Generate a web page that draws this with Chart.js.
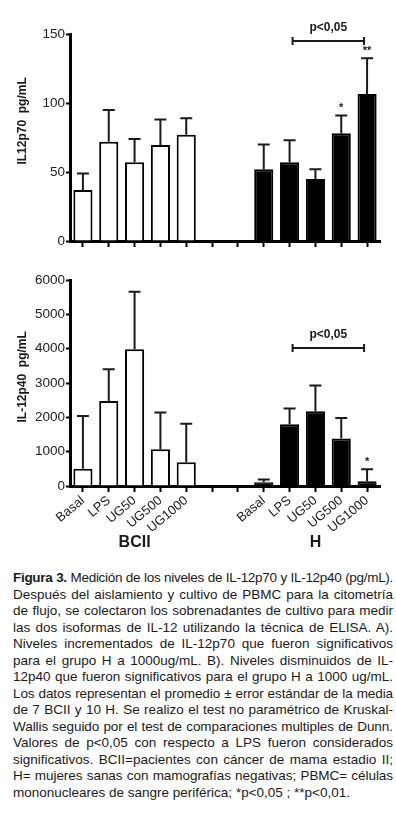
<!DOCTYPE html>
<html>
<head>
<meta charset="utf-8">
<script src="https://cdn.jsdelivr.net/npm/chart.js@4.4.1/dist/chart.umd.min.js"></script>
<style>
  body { margin: 0; width: 396px; height: 818px; background: #fff; position: relative; overflow: hidden;
         font-family: "Liberation Sans", Arial, sans-serif; }
  #c1 { position: absolute; left: 0; top: 0; }
  #c2 { position: absolute; left: 0; top: 260px; }
  #caption { position: absolute; left: 13px; top: 570px; width: 380px; font-size: 13.5px; line-height: 16.5px; color: #1a1a1a; }
  .ln { text-align: justify; text-align-last: justify; white-space: normal; }
  .ln.last { text-align-last: left; }
</style>
</head>
<body>
<canvas id="c1" width="396" height="260"></canvas>
<canvas id="c2" width="396" height="300"></canvas>
<div id="caption"></div>

<script>
// categorias (dos huecos vacios entre grupos)
const categories = ['Basal', 'LPS', 'UG50', 'UG500', 'UG1000', '', '', 'Basal', 'LPS', 'UG50', 'UG500', 'UG1000'];
const groups = ['BCII', 'H'];
const groupCenter = [2, 9];

// IL-12p70 (pg/mL)
const p70Bcii = [37, 72, 57, 69.5, 77, null, null, null, null, null, null, null];
const p70H    = [null, null, null, null, null, null, null, 52, 57, 45, 78, 106.5];
const p70Sem  = [12, 23, 17, 18.5, 12, null, null, 18, 16, 7, 13, 26];
const p70Stars = ['', '', '', '', '', '', '', '', '', '', '*', '**'];
const p70Ticks = [0, 50, 100, 150];

// IL-12p40 (pg/mL)
const p40Bcii = [500, 2475, 3980, 1070, 690, null, null, null, null, null, null, null];
const p40H    = [null, null, null, null, null, null, null, 110, 1800, 2175, 1380, 135];
const p40Sem  = [1540, 925, 1680, 1070, 1125, null, null, 80, 460, 755, 600, 350];
const p40Stars = ['', '', '', '', '', '', '', '', '', '', '', '*'];
const p40Ticks = [0, 1000, 2000, 3000, 4000, 5000, 6000];

// comparacion p<0,05 (desde LPS hasta UG1000 del grupo H)
const sigLabel = 'p<0,05';
const sigFrom = 8, sigTo = 11;
const p70SigLevel = 145;
const p40SigLevel = 4020;

const captionLines = [
  '<b>Figura 3.</b> Medición de los niveles de IL-12p70 y IL-12p40 (pg/mL).',
  'Después del aislamiento y cultivo de PBMC para la citometría',
  'de flujo, se colectaron los sobrenadantes de cultivo para medir',
  'las dos isoformas de IL-12 utilizando la técnica de ELISA. A).',
  'Niveles incrementados de IL-12p70 que fueron significativos',
  'para el grupo H a 1000ug/mL. B). Niveles disminuidos de IL-',
  '12p40 que fueron significativos para el grupo H a 1000 ug/mL.',
  'Los datos representan el promedio ± error estándar de la media',
  'de 7 BCII y 10 H. Se realizo el test no paramétrico de Kruskal-',
  'Wallis seguido por el test de comparaciones multiples de Dunn.',
  'Valores de p&lt;0,05 con respecto a LPS fueron considerados',
  'significativos. BCII=pacientes con cáncer de mama estadio II;',
  'H= mujeres sanas con mamografías negativas; PBMC= células',
  'mononucleares de sangre periférica; *p&lt;0,05 ; **p&lt;0,01.'
];

const FONT = '"Liberation Sans", Arial, sans-serif';
const INK = '#1a1a1a';

// Plugin para barras de error, asteriscos, comparacion y titulos
const extras = {
  id: 'extras',
  afterDatasetsDraw(chart, args, opts) {
    const ctx = chart.ctx;
    const xs = chart.scales.x, ys = chart.scales.y;
    const bcii = chart.data.datasets[0].data, h = chart.data.datasets[1].data;
    ctx.save();
    ctx.strokeStyle = INK;
    ctx.fillStyle = INK;
    ctx.lineWidth = 2;
    opts.sem.forEach((s, i) => {
      if (s == null) return;
      const mean = bcii[i] != null ? bcii[i] : h[i];
      const x = xs.getPixelForValue(i);
      const y0 = ys.getPixelForValue(mean);
      const y1 = ys.getPixelForValue(mean + s);
      ctx.beginPath();
      ctx.moveTo(x, y0);
      ctx.lineTo(x, y1);
      ctx.moveTo(x - 6, y1);
      ctx.lineTo(x + 6, y1);
      ctx.stroke();
      if (opts.stars[i]) {
        ctx.font = 'bold 11px ' + FONT;
        ctx.textAlign = 'center';
        ctx.textBaseline = 'bottom';
        ctx.fillText(opts.stars[i], x, y1 - 2);
      }
    });
    // corchete p<0,05
    const bx1 = xs.getPixelForValue(opts.sigFrom) + 3;
    const bx2 = xs.getPixelForValue(opts.sigTo) - 3;
    const by = ys.getPixelForValue(opts.sigLevel);
    ctx.beginPath();
    ctx.moveTo(bx1, by); ctx.lineTo(bx2, by);
    ctx.moveTo(bx1, by - 4); ctx.lineTo(bx1, by + 4);
    ctx.moveTo(bx2, by - 4); ctx.lineTo(bx2, by + 4);
    ctx.stroke();
    ctx.font = 'bold 12px ' + FONT;
    ctx.textAlign = 'center';
    ctx.textBaseline = 'bottom';
    ctx.fillText(sigLabel, (bx1 + bx2) / 2, by - 7);
    ctx.restore();
  },
  afterDraw(chart, args, opts) {
    const ctx = chart.ctx;
    const area = chart.chartArea;
    ctx.save();
    ctx.fillStyle = INK;
    // titulo eje y
    ctx.font = 'bold 12px ' + FONT;
    ctx.translate(opts.titleX, area.top + (area.bottom - area.top) * opts.titlePos);
    ctx.rotate(-Math.PI / 2);
    ctx.textAlign = 'center';
    ctx.textBaseline = 'middle';
    ctx.fillText(opts.title, 0, 0);
    ctx.restore();
    if (opts.groups) {
      const xs = chart.scales.x;
      ctx.save();
      ctx.fillStyle = INK;
      ctx.font = 'bold 16px ' + FONT;
      ctx.textAlign = 'center';
      ctx.textBaseline = 'middle';
      groups.forEach((g, k) => {
        ctx.fillText(g, xs.getPixelForValue(groupCenter[k]), opts.groupY);
      });
      ctx.restore();
    }
  }
};

function makeChart(id, bcii, h, sem, stars, ticks, max, sigLevel, title, titlePos, showLabels, xHeight, padTop) {
  return new Chart(document.getElementById(id), {
    type: 'bar',
    data: {
      labels: categories,
      datasets: [
        { label: 'BCII', data: bcii, backgroundColor: '#fff', borderColor: '#000', borderWidth: 2, grouped: false },
        { label: 'H', data: h, backgroundColor: '#000', borderColor: '#000', borderWidth: 2, grouped: false }
      ]
    },
    options: {
      responsive: false,
      animation: false,
      devicePixelRatio: 1,
      layout: { padding: { top: padTop, right: 16, left: 0, bottom: 0 } },
      datasets: { bar: { categoryPercentage: 1, barPercentage: 0.74 } },
      plugins: {
        legend: { display: false },
        tooltip: { enabled: false },
        extras: {
          sem: sem, stars: stars, sigFrom: sigFrom, sigTo: sigTo, sigLevel: sigLevel,
          title: title, titleX: 23, titlePos: titlePos,
          groups: showLabels, groupY: 283
        }
      },
      scales: {
        x: {
          offset: true,
          grid: { display: true, offset: false, drawOnChartArea: false, drawTicks: true, tickLength: 6, tickWidth: 2, tickColor: '#000' },
          border: { display: true, width: 3, color: '#000' },
          ticks: {
            display: showLabels, autoSkip: false, minRotation: 40, maxRotation: 40,
            color: '#222', padding: 1, font: { family: FONT, size: 13 }
          },
          afterFit: s => { s.height = xHeight; }
        },
        y: {
          min: 0, max: max,
          afterBuildTicks: s => { s.ticks = ticks.map(v => ({ value: v })); },
          grid: { display: true, drawOnChartArea: false, drawTicks: true, tickLength: 4, tickWidth: 2, tickColor: '#000' },
          border: { display: true, width: 3, color: '#000' },
          ticks: { color: '#222', padding: 1, font: { family: FONT, size: 13.5 }, callback: v => String(v) },
          afterFit: s => { s.width = 70; }
        }
      }
    },
    plugins: [extras]
  });
}

makeChart('c1', p70Bcii, p70H, p70Sem, p70Stars, p70Ticks, 150, p70SigLevel, 'IL12p70  pg/mL', 0.42, false, 19, 34);
makeChart('c2', p40Bcii, p40H, p40Sem, p40Stars, p40Ticks, 6000, p40SigLevel, 'IL-12p40  pg/mL', 0.47, true, 74, 20);

// Texto de la figura, una linea por renglon, justificado
const cap = document.getElementById('caption');
const W = 380;
captionLines.forEach((t, i) => {
  const d = document.createElement('div');
  d.className = 'ln' + (i === captionLines.length - 1 ? ' last' : '');
  d.innerHTML = t;
  cap.appendChild(d);
  const probe = document.createElement('span');
  probe.style.cssText = 'position:absolute;visibility:hidden;white-space:nowrap;font:inherit;';
  probe.innerHTML = t;
  cap.appendChild(probe);
  let ls = 0;
  while (probe.getBoundingClientRect().width > W - 2 && ls > -1.5) {
    ls -= 0.05;
    probe.style.letterSpacing = ls + 'px';
  }
  if (ls < 0) d.style.letterSpacing = ls + 'px';
  cap.removeChild(probe);
});
</script>
</body>
</html>
